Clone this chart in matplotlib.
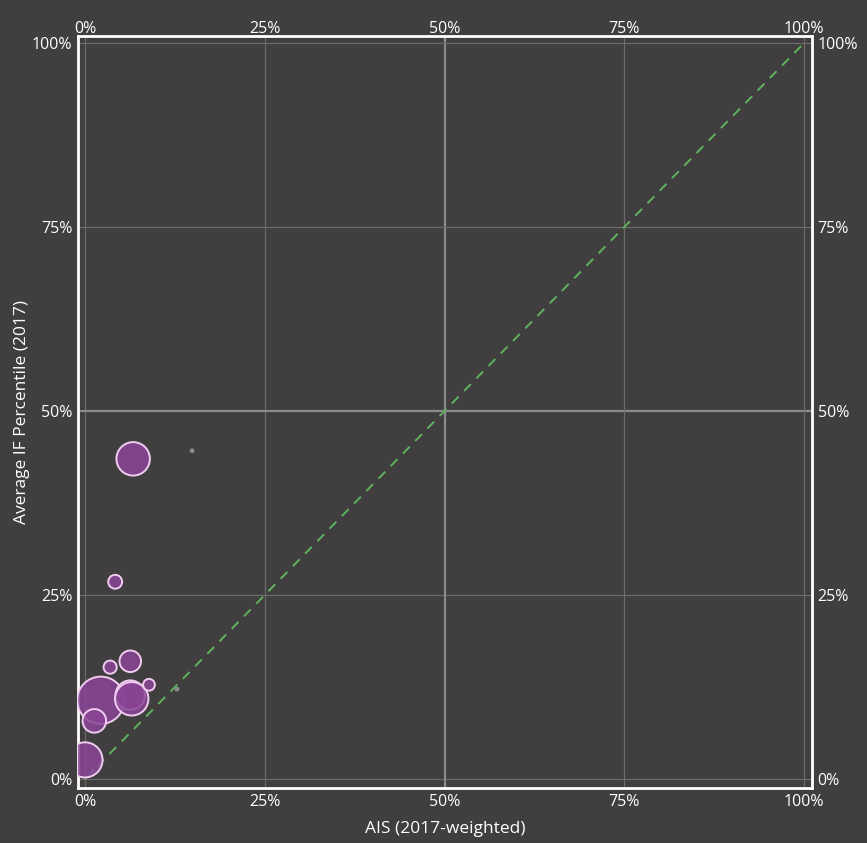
import matplotlib
matplotlib.use("Agg")
import matplotlib.pyplot as plt
from matplotlib.ticker import FixedLocator

# ---- data (percent) ----
bubble_x = [6.7, 4.2, 3.5, 6.3, 2.2, 6.3, 6.5, 8.9, 1.3, 0.0]
bubble_y = [43.5, 26.8, 15.2, 16.0, 10.7, 11.4, 10.9, 12.8, 7.9, 2.6]
bubble_weight = [290, 50, 45, 120, 580, 225, 290, 36, 144, 320]

grey_x = [14.9, 12.8, 1.1]
grey_y = [44.6, 12.2, 1.1]

ticks = [0, 25, 50, 75, 100]
tick_labels = ["0%", "25%", "50%", "75%", "100%"]
x_label = "AIS (2017-weighted)"
y_label = "Average IF Percentile (2017)"

BG = "#403e3f"
plt.rcParams['font.family'] = ['Open Sans', 'DejaVu Sans']

fig = plt.figure(figsize=(8.67, 8.43), dpi=100, facecolor=BG)
ax = fig.add_axes([78/867, 1-788/843, (812-78)/867, (788-36)/843])
ax.set_facecolor(BG)
ax.set_xlim(-0.97, 101.1)
ax.set_ylim(-1.22, 100.95)

# grid
for t in ticks:
    if t == 50:
        c, lw = "#8a8a8a", 1.6
    else:
        c, lw = "#6c6b6b", 0.9
    ax.axvline(t, color=c, lw=lw, zorder=1)
    ax.axhline(t, color=c, lw=lw, zorder=1)

# diagonal
ax.plot([0, 100], [0, 100], linestyle=(0, (5, 4)), color="#5fb35f", lw=1.4, zorder=2)

# grey small dots
ax.scatter(grey_x, grey_y, s=12, color="#8a8a8a", edgecolors="none", zorder=3)

# bubbles
sizes = [w * 2.0 for w in bubble_weight]
ax.scatter(bubble_x, bubble_y, s=sizes, facecolor=(0.54, 0.27, 0.59, 0.85),
           edgecolors="#f0cdf0", linewidths=1.4, zorder=4)

for sp in ax.spines.values():
    sp.set_color("white")
    sp.set_linewidth(2)

ax.xaxis.set_major_locator(FixedLocator(ticks))
ax.yaxis.set_major_locator(FixedLocator(ticks))
ax.set_xticklabels(tick_labels)
ax.set_yticklabels(tick_labels)
ax.tick_params(axis="both", length=0, labelsize=11.5, colors="white",
               right=True, labelright=True)
ax.tick_params(axis="x", pad=4)
ax.tick_params(axis="y", pad=4)

# top axis labels, closer to the frame
top = ax.secondary_xaxis("top")
top.xaxis.set_major_locator(FixedLocator(ticks))
top.set_xticklabels(tick_labels)
top.tick_params(length=0, labelsize=11.5, colors="white", pad=-1)
top.spines["top"].set_visible(False)

ax.set_xlabel(x_label, color="white", fontsize=12.5, labelpad=8)
ax.set_ylabel(y_label, color="white", fontsize=12.5)
ax.yaxis.set_label_coords((30 - 78) / 734, 0.5)

fig.savefig("out.png", dpi=100, facecolor=BG)
